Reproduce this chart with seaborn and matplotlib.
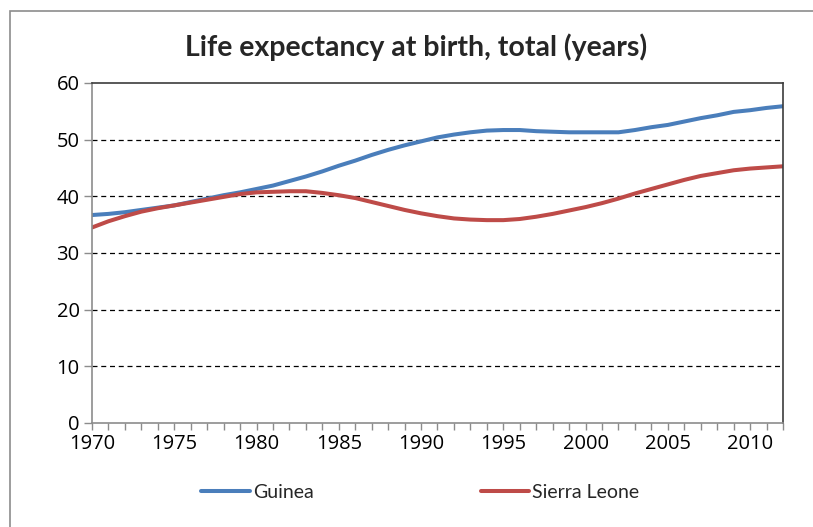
import numpy as np
import pandas as pd
import seaborn as sns
import matplotlib.pyplot as plt
from matplotlib.patches import Rectangle
from matplotlib.ticker import MultipleLocator

# values
years = list(range(1970, 2013))
guinea = [36.7, 36.9, 37.2, 37.6, 38.0, 38.4, 39.0, 39.6, 40.2, 40.7,
          41.3, 41.9, 42.7, 43.5, 44.4, 45.4, 46.3, 47.3, 48.2, 49.0,
          49.7, 50.4, 50.9, 51.3, 51.6, 51.7, 51.7, 51.5, 51.4, 51.3,
          51.3, 51.3, 51.3, 51.7, 52.2, 52.6, 53.2, 53.8, 54.3, 54.9,
          55.2, 55.6, 55.9]
sierra_leone = [34.5, 35.6, 36.5, 37.3, 37.9, 38.4, 38.9, 39.4, 39.9, 40.4,
                40.7, 40.8, 40.9, 40.9, 40.6, 40.2, 39.7, 39.0, 38.3, 37.6,
                37.0, 36.5, 36.1, 35.9, 35.8, 35.8, 36.0, 36.4, 36.9, 37.5,
                38.1, 38.8, 39.6, 40.5, 41.3, 42.1, 42.9, 43.6, 44.1, 44.6,
                44.9, 45.1, 45.3]
countries = ['Guinea', 'Sierra Leone']
colors = ['#4A7EBB', '#BE4B48']

df = pd.DataFrame({'year': years, 'Guinea': guinea, 'Sierra Leone': sierra_leone})
df = df.melt(id_vars='year', var_name='country', value_name='years')

sns.set_style('white')
plt.rcParams['font.family'] = ['Open Sans', 'DejaVu Sans']

fig = plt.figure(figsize=(8.13, 5.27), dpi=100)
ax = fig.add_axes([92 / 813, 104 / 527, 691 / 813, 340 / 527])

# outer chart border (cropped at right and bottom like the reference)
fig.patches.append(Rectangle((10 / 813, -0.1), 1.2, 1.1 - 11 / 527,
                             transform=fig.transFigure, fill=False,
                             edgecolor='#8c8c8c', linewidth=1.2))

sns.lineplot(data=df, x='year', y='years', hue='country', hue_order=countries,
             palette=colors, linewidth=2.9, ax=ax, legend=False)

ax.set_xlim(1970, 2012)
ax.set_ylim(0, 60)
ax.set_xticks(range(1970, 2011, 5))
ax.xaxis.set_minor_locator(MultipleLocator(1))
ax.set_yticks(range(0, 61, 10))
for v in range(10, 60, 10):
    ax.axhline(v, color='black', linestyle=(0, (4, 3)), linewidth=0.9, zorder=0)

ax.tick_params(axis='both', which='both', direction='out', colors='#8c8c8c',
               labelcolor='black', labelsize=14.5)
ax.tick_params(axis='x', which='both', length=5, width=1, bottom=True)
ax.tick_params(axis='y', length=6, width=1, left=True)
ax.tick_params(axis='x', which='major', pad=3)
ax.tick_params(axis='y', pad=3)
for s in ['left', 'bottom']:
    ax.spines[s].set_color('#8c8c8c')
for s in ['top', 'right']:
    ax.spines[s].set_color('#3c3c3c')
for s in ax.spines.values():
    s.set_linewidth(1.2)
ax.set_xlabel('')
ax.set_ylabel('')

fig.text(0.512, 0.91, 'Life expectancy at birth, total (years)', ha='center',
         va='center', fontsize=20.5, fontweight='bold', family=['Lato', 'DejaVu Sans'])

handles = [plt.Line2D([], [], color=c, linewidth=2.9) for c in colors]
fig.legend(handles, countries, loc='center', bbox_to_anchor=(0.517, 0.066), ncol=2,
           frameon=False, handlelength=2.5, handletextpad=0.15, columnspacing=8.6,
           prop={'family': ['Lato', 'DejaVu Sans'], 'size': 14})

fig.savefig('out.png', dpi=100)
